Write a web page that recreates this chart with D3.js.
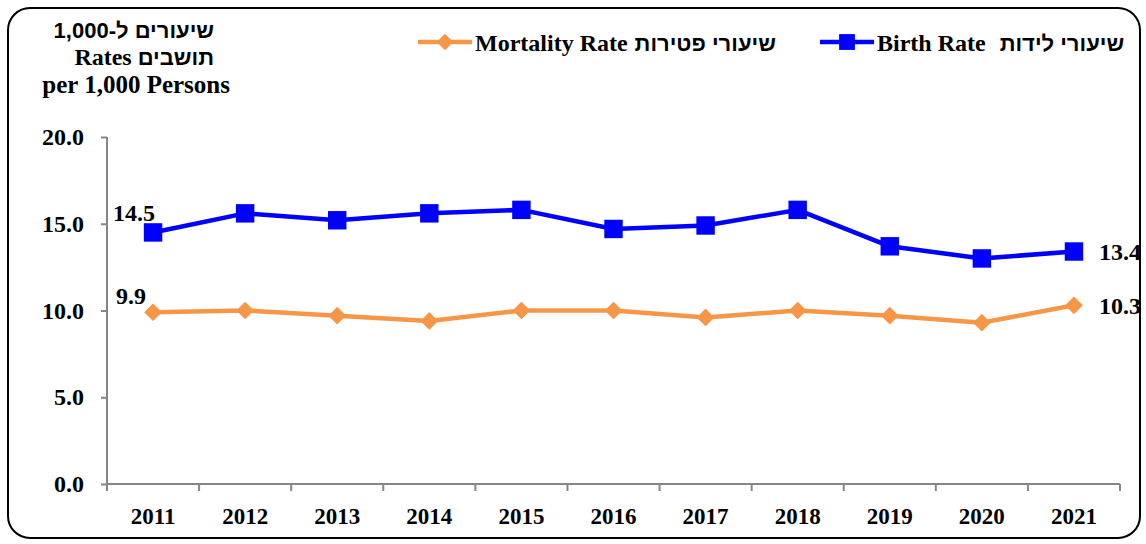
<!DOCTYPE html>
<html>
<head>
<meta charset="utf-8">
<script src="https://cdn.jsdelivr.net/npm/d3@7"></script>
<style>
  body { margin: 0; background: #fff; }
  svg text { font-family: "Liberation Serif", "Times New Roman", serif; font-weight: bold; fill: #000; }
  .heb { font-family: "Liberation Sans", "DejaVu Sans", sans-serif; }
</style>
</head>
<body>
<svg id="chart" width="1146" height="544"></svg>
<script>
// chart data
let years = ["2011","2012","2013","2014","2015","2016","2017","2018","2019","2020","2021"];
let birthRate = [14.5, 15.6, 15.2, 15.6, 15.8, 14.7, 14.9, 15.8, 13.7, 13.0, 13.4];
let mortalityRate = [9.9, 10.0, 9.7, 9.4, 10.0, 10.0, 9.6, 10.0, 9.7, 9.3, 10.3];
let yTicks = [0, 5, 10, 15, 20];

var blue = "#0000FF", orange = "#F79646", axisCol = "#868686";

var svg = d3.select("#chart");

// rounded outer frame
svg.append("rect")
  .attr("x", 8).attr("y", 8)
  .attr("width", 1132).attr("height", 530)
  .attr("rx", 22).attr("ry", 22)
  .attr("fill", "none")
  .attr("stroke", "#000")
  .attr("stroke-width", 2);

var xScale = d3.scaleBand()
  .domain(years)
  .range([107, 1120]);

var yScale = d3.scaleLinear()
  .domain([0, 20])
  .range([484, 137]);

var cx = function(i) { return xScale(years[i]) + xScale.bandwidth() / 2; };

// y axis
var yAxis = svg.append("g")
  .attr("transform", "translate(107,0)")
  .call(d3.axisLeft(yScale).tickValues(yTicks).tickFormat(d3.format(".1f")).tickSize(6).tickPadding(17));
yAxis.selectAll("path, line").attr("stroke", axisCol).attr("stroke-width", 2);
yAxis.select(".domain").attr("d", "M0," + yScale(20) + "V" + yScale(0));
yAxis.selectAll("text").style("font-size", "24px").attr("fill", "#000");

// x axis: ticks at category boundaries
var xAxis = svg.append("g")
  .attr("transform", "translate(0," + yScale(0) + ")");
xAxis.append("path")
  .attr("d", "M" + xScale.range()[0] + ",0H" + xScale.range()[1])
  .attr("stroke", axisCol).attr("stroke-width", 2);
var bounds = years.map(function(y) { return xScale(y); }).concat([xScale.range()[1]]);
xAxis.selectAll(".btick")
  .data(bounds)
  .enter().append("line")
  .attr("x1", function(d) { return d; })
  .attr("x2", function(d) { return d; })
  .attr("y1", 0).attr("y2", 7)
  .attr("stroke", axisCol).attr("stroke-width", 2);
xAxis.selectAll(".xlab")
  .data(years)
  .enter().append("text")
  .attr("x", function(d) { return xScale(d) + xScale.bandwidth() / 2; })
  .attr("y", 40)
  .attr("text-anchor", "middle")
  .style("font-size", "23px")
  .text(function(d) { return d; });

// lines
var line = d3.line()
  .x(function(d, i) { return cx(i); })
  .y(function(d) { return yScale(d); });

svg.append("path")
  .datum(mortalityRate)
  .attr("d", line)
  .attr("fill", "none")
  .attr("stroke", orange)
  .attr("stroke-width", 4.5)
  .attr("stroke-linejoin", "round");

svg.append("path")
  .datum(birthRate)
  .attr("d", line)
  .attr("fill", "none")
  .attr("stroke", blue)
  .attr("stroke-width", 4.5)
  .attr("stroke-linejoin", "round");

// markers
var diamond = d3.symbol().type(d3.symbolDiamond2).size(200);
var square = d3.symbol().type(d3.symbolSquare).size(340);

svg.selectAll(".mdot")
  .data(mortalityRate)
  .enter().append("path")
  .attr("d", diamond)
  .attr("transform", function(d, i) { return "translate(" + cx(i) + "," + yScale(d) + ")"; })
  .attr("fill", orange);

svg.selectAll(".bdot")
  .data(birthRate)
  .enter().append("path")
  .attr("d", square)
  .attr("transform", function(d, i) { return "translate(" + cx(i) + "," + yScale(d) + ")"; })
  .attr("fill", blue);

// data labels (first and last)
var last = years.length - 1;
svg.append("text").attr("x", cx(0) - 19).attr("y", yScale(birthRate[0]) - 11)
  .attr("text-anchor", "middle").style("font-size", "24px").text(birthRate[0].toFixed(1));
svg.append("text").attr("x", cx(0) - 22).attr("y", yScale(mortalityRate[0]) - 8)
  .attr("text-anchor", "middle").style("font-size", "24px").text(mortalityRate[0].toFixed(1));
svg.append("text").attr("x", cx(last) + 25).attr("y", yScale(birthRate[last])).attr("dy", "0.35em")
  .style("font-size", "24px").text(birthRate[last].toFixed(1));
svg.append("text").attr("x", cx(last) + 25).attr("y", yScale(mortalityRate[last])).attr("dy", "0.35em")
  .style("font-size", "24px").text(mortalityRate[last].toFixed(1));

// writes pieces left to right, each piece its own text so bidi stays simple
function textRun(parent, x, y, parts, alignRight) {
  var nodes = parts.map(function(p) {
    var t = parent.append("text").attr("y", y).style("font-size", p.size + "px").text(p.text);
    if (p.heb) t.attr("class", "heb");
    return t;
  });
  var widths = nodes.map(function(t) { return t.node().getComputedTextLength(); });
  var total = d3.sum(widths) + d3.sum(parts, function(p) { return p.gap || 0; });
  var pos = alignRight ? x - total : x;
  nodes.forEach(function(t, i) {
    t.attr("x", pos);
    pos += widths[i] + (parts[i].gap || 0);
  });
}

// y axis title (pieces listed in visual order, left to right)
textRun(svg, 214, 38, [{text: "1,000-", size: 22, heb: true}, {text: "שיעורים ל", size: 22, heb: true}], true);
textRun(svg, 214, 65, [{text: "Rates", size: 24, gap: 6}, {text: "תושבים", size: 22, heb: true}], true);
textRun(svg, 230, 93, [{text: "per 1,000 Persons", size: 25}], true);

// legend
function legendItem(x, col, shape, eng, heb, gap) {
  var g = svg.append("g").attr("transform", "translate(" + x + ",42)");
  g.append("line").attr("x1", 0).attr("x2", 54).attr("y1", 0).attr("y2", 0)
    .attr("stroke", col).attr("stroke-width", 4.5);
  g.append("path").attr("d", shape).attr("transform", "translate(27,0)").attr("fill", col);
  textRun(g, 57, 9, [{text: eng, size: 24, gap: gap}, {text: heb, size: 22, heb: true}], false);
}
legendItem(418, orange, d3.symbol().type(d3.symbolDiamond2).size(170), "Mortality Rate", "שיעורי פטירות", 7);
legendItem(820, blue, d3.symbol().type(d3.symbolSquare).size(250), "Birth Rate", "שיעורי לידות", 14);
</script>
</body>
</html>
